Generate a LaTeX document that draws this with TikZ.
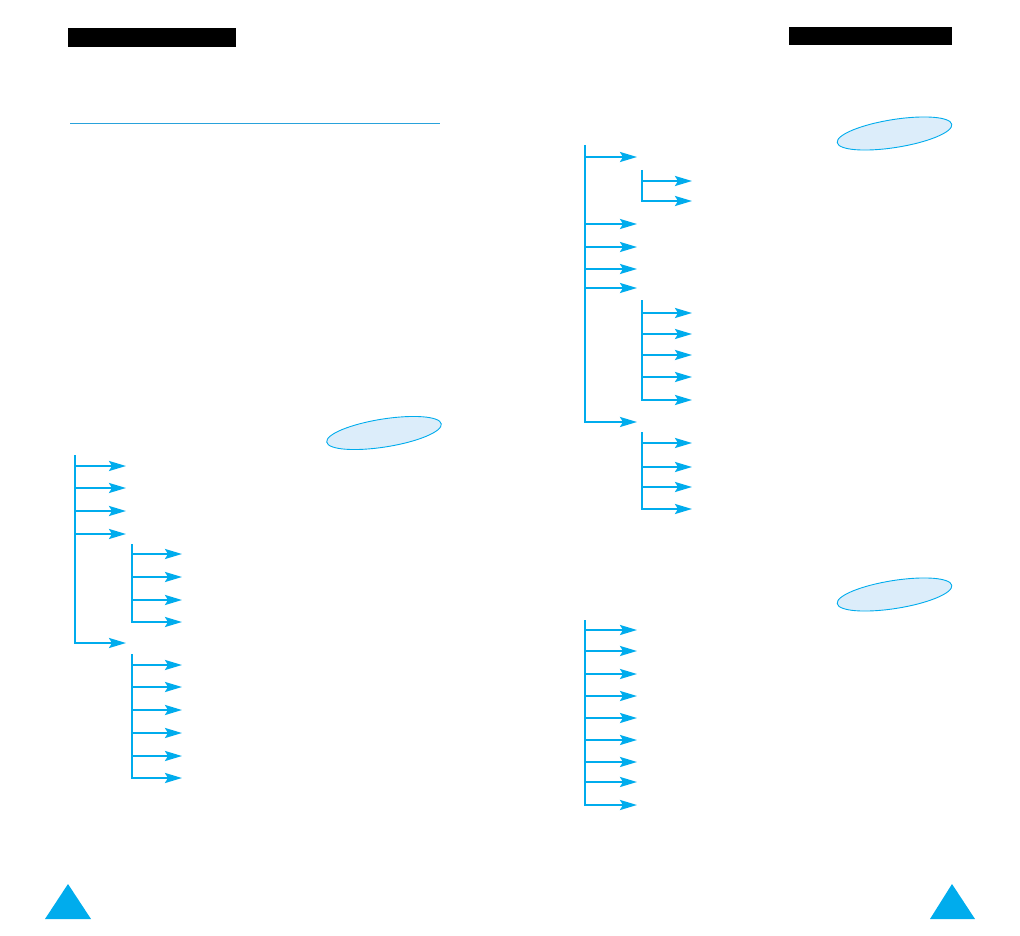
\documentclass[tikz,border=0pt]{standalone}
\usepackage{tikz}
\usetikzlibrary{arrows.meta}

\begin{document}
\begin{tikzpicture}[line cap=butt,line join=miter,>={Stealth[length=17pt,width=10pt,inset=3pt]},x=1pt,y=-1pt]
\definecolor{cyblue}{rgb}{0.,0.6745098039215687,0.9294117647058824}
\definecolor{rulblue}{rgb}{0.1607843137254902,0.6352941176470588,0.8588235294117647}
\definecolor{paleblue}{rgb}{0.8627450980392157,0.9294117647058824,0.9803921568627451}
\useasboundingbox (0,0) rectangle (1020,936);
% page headers
\fill[fill=black] (68,28) rectangle (236,47);
\fill[fill=black] (789,27) rectangle (952,45);
\draw [line width=0.9pt,color=rulblue] (70,123)-- (440,123);
% ovals
\draw [line width=0.9pt,color=cyblue,fill=paleblue,rotate around={9:(384,433)}] (384,433) ellipse (58pt and 14pt);
\draw [line width=0.9pt,color=cyblue,fill=paleblue,rotate around={9:(894.5,133.5)}] (894.5,133.5) ellipse (58pt and 14pt);
\draw [line width=0.9pt,color=cyblue,fill=paleblue,rotate around={9:(894.5,594.5)}] (894.5,594.5) ellipse (58pt and 14pt);
% left tree
\begin{scope}[line width=2.2pt,color=cyblue]
\draw [->] (75,455)-- (75,643)-- (126,643);
\draw [->] (75,466)-- (126,466);
\draw [->] (75,488)-- (126,488);
\draw [->] (75,511)-- (126,511);
\draw [->] (75,534)-- (126,534);
\draw [->] (132,544)-- (132,622)-- (182,622);
\draw [->] (132,554)-- (182,554);
\draw [->] (132,577)-- (182,577);
\draw [->] (132,600)-- (182,600);
\draw [->] (132,654)-- (132,778)-- (182,778);
\draw [->] (132,665)-- (182,665);
\draw [->] (132,687)-- (182,687);
\draw [->] (132,710)-- (182,710);
\draw [->] (132,733)-- (182,733);
\draw [->] (132,756)-- (182,756);
% right upper tree
\draw [->] (585,145)-- (585,422)-- (637,422);
\draw [->] (585,157)-- (637,157);
\draw [->] (585,224)-- (637,224);
\draw [->] (585,247)-- (637,247);
\draw [->] (585,269)-- (637,269);
\draw [->] (585,288)-- (637,288);
\draw [->] (642,170)-- (642,201)-- (692,201);
\draw [->] (642,181)-- (692,181);
\draw [->] (642,300)-- (642,400)-- (692,400);
\draw [->] (642,313)-- (692,313);
\draw [->] (642,334)-- (692,334);
\draw [->] (642,355)-- (692,355);
\draw [->] (642,377)-- (692,377);
\draw [->] (642,432)-- (642,509)-- (692,509);
\draw [->] (642,443)-- (692,443);
\draw [->] (642,467)-- (692,467);
\draw [->] (642,487)-- (692,487);
% right lower tree
\draw [->] (585,620)-- (585,805)-- (637,805);
\draw [->] (585,630)-- (637,630);
\draw [->] (585,651)-- (637,651);
\draw [->] (585,674)-- (637,674);
\draw [->] (585,696)-- (637,696);
\draw [->] (585,718)-- (637,718);
\draw [->] (585,740)-- (637,740);
\draw [->] (585,762)-- (637,762);
\draw [->] (585,782)-- (637,782);
\end{scope}
% page markers
\fill[fill=cyblue] (45,919) -- (91,919) -- (68,884) -- cycle;
\fill[fill=cyblue] (930,919) -- (975,919) -- (952,884) -- cycle;
\end{tikzpicture}
\end{document}
